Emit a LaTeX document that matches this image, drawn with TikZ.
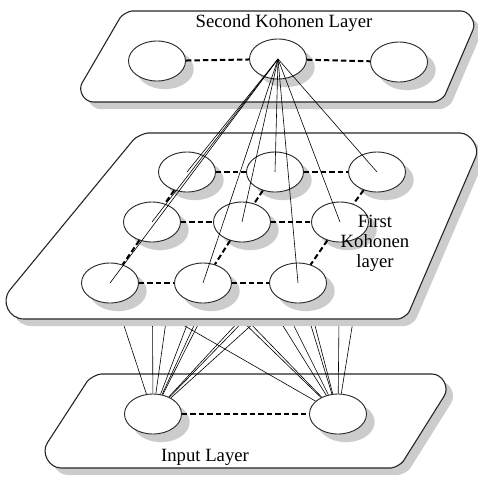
\documentclass[tikz,border=0pt]{standalone}
\usepackage{fontspec}
\setmainfont{Liberation Serif}
\usetikzlibrary{shapes.geometric,calc}
\definecolor{shadowgray}{gray}{0.8}
% #1 style, #2-#5 corners, #6-#9 corner cuts
\newcommand\planepath[9]{%
 \pgfmathsetlengthmacro\hA{0.6*#6}\pgfmathsetlengthmacro\hB{0.6*#7}%
 \pgfmathsetlengthmacro\hC{0.6*#8}\pgfmathsetlengthmacro\hD{0.6*#9}%
 \path[#1]
   ($(#2)!#6!(#3)$) -- ($(#3)!#7!(#2)$) .. controls ($(#3)!\hB!(#2)$) and ($(#3)!\hB!(#4)$) .. ($(#3)!#7!(#4)$)
   -- ($(#4)!#8!(#3)$) .. controls ($(#4)!\hC!(#3)$) and ($(#4)!\hC!(#5)$) .. ($(#4)!#8!(#5)$)
   -- ($(#5)!#9!(#4)$) .. controls ($(#5)!\hD!(#4)$) and ($(#5)!\hD!(#2)$) .. ($(#5)!#9!(#2)$)
   -- ($(#2)!#6!(#5)$) .. controls ($(#2)!\hA!(#5)$) and ($(#2)!\hA!(#3)$) .. ($(#2)!#6!(#3)$) -- cycle;}
\begin{document}
\begin{tikzpicture}[x=1pt,y=-1pt,
  neuron/.style={ellipse, draw=black!85, line width=0.9pt, fill=white, minimum width=57pt, minimum height=40pt, inner sep=0pt},
  blob/.style={ellipse, fill=shadowgray, draw=shadowgray, line width=0.2pt, minimum width=57pt, minimum height=40pt, inner sep=0pt},
  planeline/.style={draw=black!85, line width=1.1pt, fill=white},
  planeshadow/.style={fill=shadowgray},
  lateral/.style={line width=2pt, dash pattern=on 5.5pt off 3pt},
  link/.style={line width=0.6pt},
  lbl/.style={font=\fontsize{18.7}{20}\selectfont, inner sep=0pt, text=black}]
\useasboundingbox (0,0) rectangle (478,477);
% plane corners and their shadow copies
\coordinate (TA) at (124,11);  \coordinate (TB) at (481,11);
\coordinate (TC) at (442,102); \coordinate (TD) at (71,102);
\coordinate (MA) at (139,133); \coordinate (MB) at (486,133);
\coordinate (MC) at (406,319); \coordinate (MD) at (-14,319);
\coordinate (IA) at (92,374);  \coordinate (IB) at (458,374);
\coordinate (IC) at (399,468); \coordinate (ID) at (31,468);
\foreach \c in {TA,TB,TC,TD,MA,MB,MC,MD,IA,IB,IC,ID} {\coordinate (\c s) at ($(\c)+(7,7)$);}
% centres of the first Kohonen layer
\coordinate (c11) at (187,172); \coordinate (c12) at (275,172); \coordinate (c13) at (377,172);
\coordinate (c21) at (152,222); \coordinate (c22) at (242,222); \coordinate (c23) at (340,222);
\coordinate (c31) at (110,283); \coordinate (c32) at (203,283); \coordinate (c33) at (298,283);
% ---------- input layer ----------
\planepath{planeshadow}{IAs}{IBs}{ICs}{IDs}{9pt}{26pt}{8pt}{30pt}
\planepath{planeline}{IA}{IB}{IC}{ID}{9pt}{26pt}{8pt}{30pt}
\node[blob] (si1) at (161,422) {};
\node[blob] (si2) at (346,422) {};
\node[neuron] (i1) at (153,414) {};
\node[neuron] (i2) at (338,414) {};
\draw[lateral] (i1) -- (i2);
\foreach \n in {11,12,13,21,22,23,31,32,33} {
  \draw[link] (i1) -- (c\n);
  \draw[link] (i2) -- (c\n);
}
% ---------- first Kohonen layer ----------
\planepath{planeshadow}{MAs}{MBs}{MCs}{MDs}{9pt}{26pt}{8pt}{38pt}
\planepath{planeline}{MA}{MB}{MC}{MD}{9pt}{26pt}{8pt}{38pt}
\foreach \n in {11,12,13,21,22,23,31,32,33} {
  \node[blob] (sm\n) at ($(c\n)+(8,8)$) {};
}
\foreach \n in {11,12,13,21,22,23,31,32,33} {
  \node[neuron] (m\n) at (c\n) {};
}
\draw[lateral] (m11) -- (m12); \draw[lateral] (m12) -- (m13);
\draw[lateral] (m21) -- (m22); \draw[lateral] (m22) -- (m23);
\draw[lateral] (m31) -- (m32); \draw[lateral] (m32) -- (m33);
\draw[lateral] (m11) -- (m21); \draw[lateral] (m21) -- (m31);
\draw[lateral] (m12) -- (m22); \draw[lateral] (m22) -- (m32);
\draw[lateral] (m13) -- (m23); \draw[lateral] (m23) -- (m33);
% ---------- second Kohonen layer ----------
\planepath{planeshadow}{TAs}{TBs}{TCs}{TDs}{8pt}{20pt}{8pt}{22pt}
\planepath{planeline}{TA}{TB}{TC}{TD}{8pt}{20pt}{8pt}{22pt}
\node[blob] (st1) at (165,69) {};
\node[blob] (st2) at (286,67) {};
\node[blob] (st3) at (407,70) {};
\node[neuron] (t1) at (157,61) {};
\node[neuron] (t2) at (278,59) {};
\node[neuron] (t3) at (399,62) {};
\draw[lateral] (t1) -- (t2);
\draw[lateral] (t2) -- (t3);
% links from the second layer down to the first
\foreach \n in {11,12,13,21,22,23,31,32,33} {
  \draw[link] (t2.center) -- (m\n.center);
}
% labels
\node[lbl, anchor=base] (ltop) at (284,27) {Second Kohonen Layer};
\node[lbl, anchor=base, align=center] (lmid) at (375,267) {First\\Kohonen\\layer};
\node[lbl, anchor=base] (lin) at (205,461) {Input Layer};
\end{tikzpicture}
\end{document}
